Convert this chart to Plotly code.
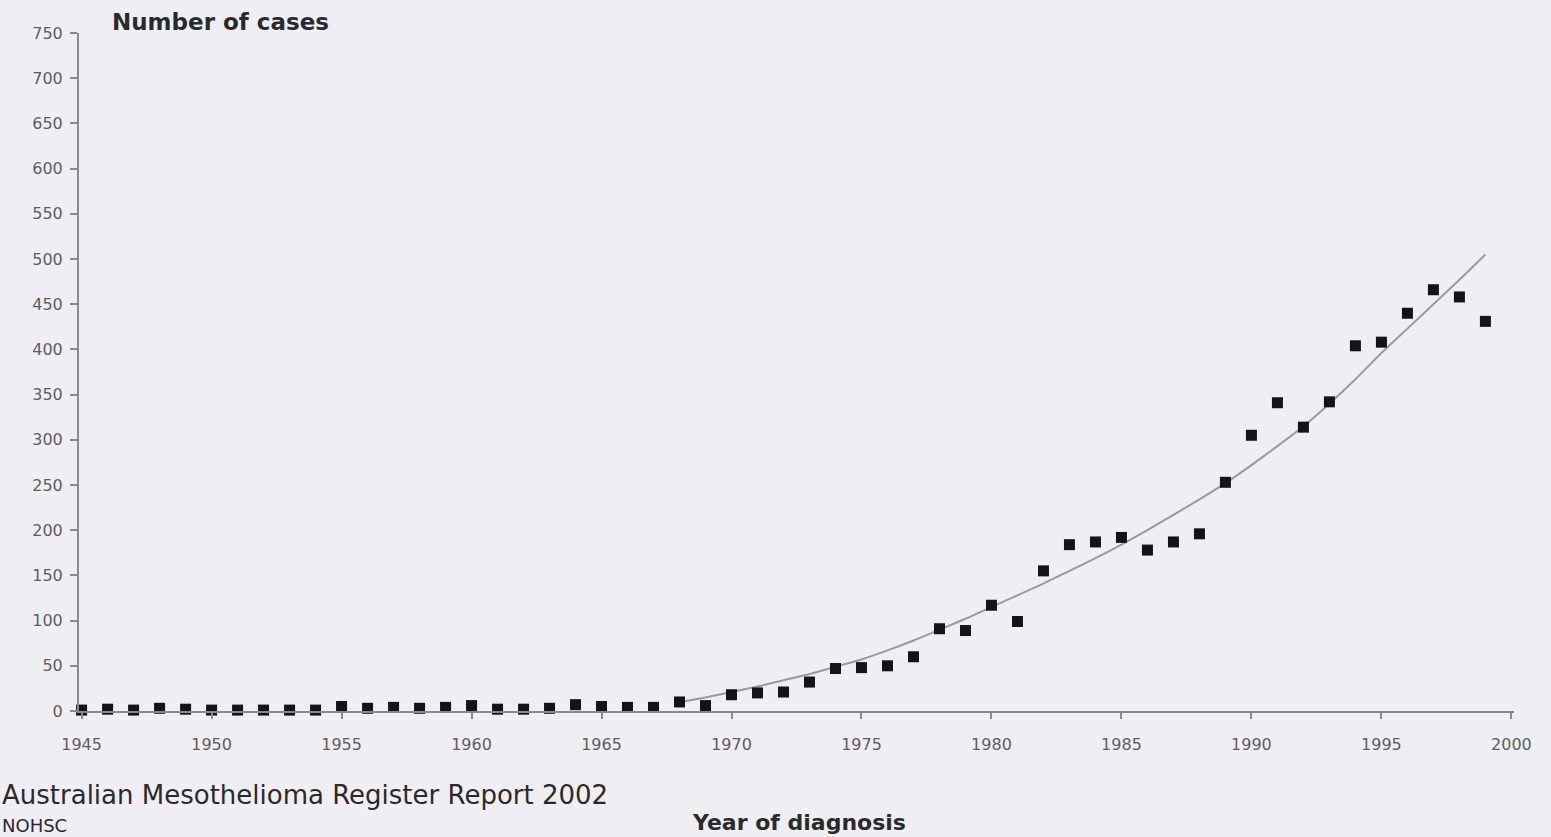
import plotly.graph_objects as go

# ---- data -------------------------------------------------------------
years = list(range(1945, 2000))
cases = [1, 2, 1, 3, 2, 1, 1, 1, 1, 1,
         5, 3, 4, 3, 4, 6, 2, 2, 3, 7,
         5, 4, 4, 10, 6, 18, 20, 21, 32, 47,
         48, 50, 60, 91, 89, 117, 99, 155, 184, 187,
         192, 178, 187, 196, 253, 305, 341, 314, 342, 404,
         408, 440, 466, 458, 431]

trend_years = list(range(1968, 2000))
trend_vals = [10, 15, 21, 27, 34, 41, 49, 57, 67, 78,
              90, 102, 115, 128, 141, 155, 169, 184, 200, 217,
              234, 252, 272, 293, 315, 340, 367, 396, 423, 450,
              477, 505]

x_ticks = list(range(1945, 2001, 5))
y_ticks = list(range(0, 751, 50))

# ---- styles -------------------------------------------------------------
BG = "#efeff3"
AXIS = "#8a8a8e"
TICKFONT = dict(family="DejaVu Sans", size=16, color="#5e5e62")

fig = go.Figure()
fig.add_trace(go.Scatter(
    x=trend_years, y=trend_vals, mode="lines",
    line=dict(color="#9a9a9e", width=2, shape="spline", smoothing=0.6),
    hoverinfo="skip", showlegend=False, cliponaxis=False,
))
fig.add_trace(go.Scatter(
    x=years, y=cases, mode="markers",
    marker=dict(symbol="square", size=11, color="#141418"),
    showlegend=False, cliponaxis=False,
))

fig.update_layout(
    width=1551, height=837,
    margin=dict(l=79, r=37, t=33, b=126),
    paper_bgcolor=BG, plot_bgcolor=BG,
    xaxis=dict(
        range=[1944.9, 2000.1], tickvals=x_ticks, ticktext=[str(t) for t in x_ticks],
        showgrid=False, zeroline=False, showline=True, linecolor=AXIS, linewidth=2,
        ticks="outside", ticklen=6, tickcolor=AXIS, tickwidth=1.5, tickfont=TICKFONT,
        ticklabelstandoff=12,
    ),
    yaxis=dict(
        range=[0, 750], tickvals=y_ticks, ticktext=[str(t) for t in y_ticks],
        showgrid=False, zeroline=False, showline=True, linecolor=AXIS, linewidth=2,
        ticks="outside", ticklen=7, tickcolor=AXIS, tickwidth=1.5, tickfont=TICKFONT,
        ticklabelstandoff=4,
    ),
    annotations=[
        dict(text="<b>Number of cases</b>", xref="paper", yref="paper",
             x=(110 - 79) / 1435, y=1 + 11 / 678, xanchor="left", yanchor="middle",
             showarrow=False, font=dict(family="DejaVu Sans", size=23, color="#2a2a2e")),
        dict(text="<b>Year of diagnosis</b>", xref="paper", yref="paper",
             x=(799 - 79) / 1435, y=-(822 - 711) / 678, xanchor="center", yanchor="middle",
             showarrow=False, font=dict(family="DejaVu Sans", size=22, color="#2a2a2e")),
        dict(text="Australian Mesothelioma Register Report 2002", xref="paper", yref="paper",
             x=(0 - 79) / 1435, y=-(795 - 711) / 678, xanchor="left", yanchor="middle",
             showarrow=False, font=dict(family="DejaVu Sans", size=26, color="#2a2a2e")),
        dict(text="NOHSC", xref="paper", yref="paper",
             x=(0 - 79) / 1435, y=-(825 - 711) / 678, xanchor="left", yanchor="middle",
             showarrow=False, font=dict(family="DejaVu Sans", size=18, color="#2a2a2e")),
    ],
)

fig.write_html("out.html")
